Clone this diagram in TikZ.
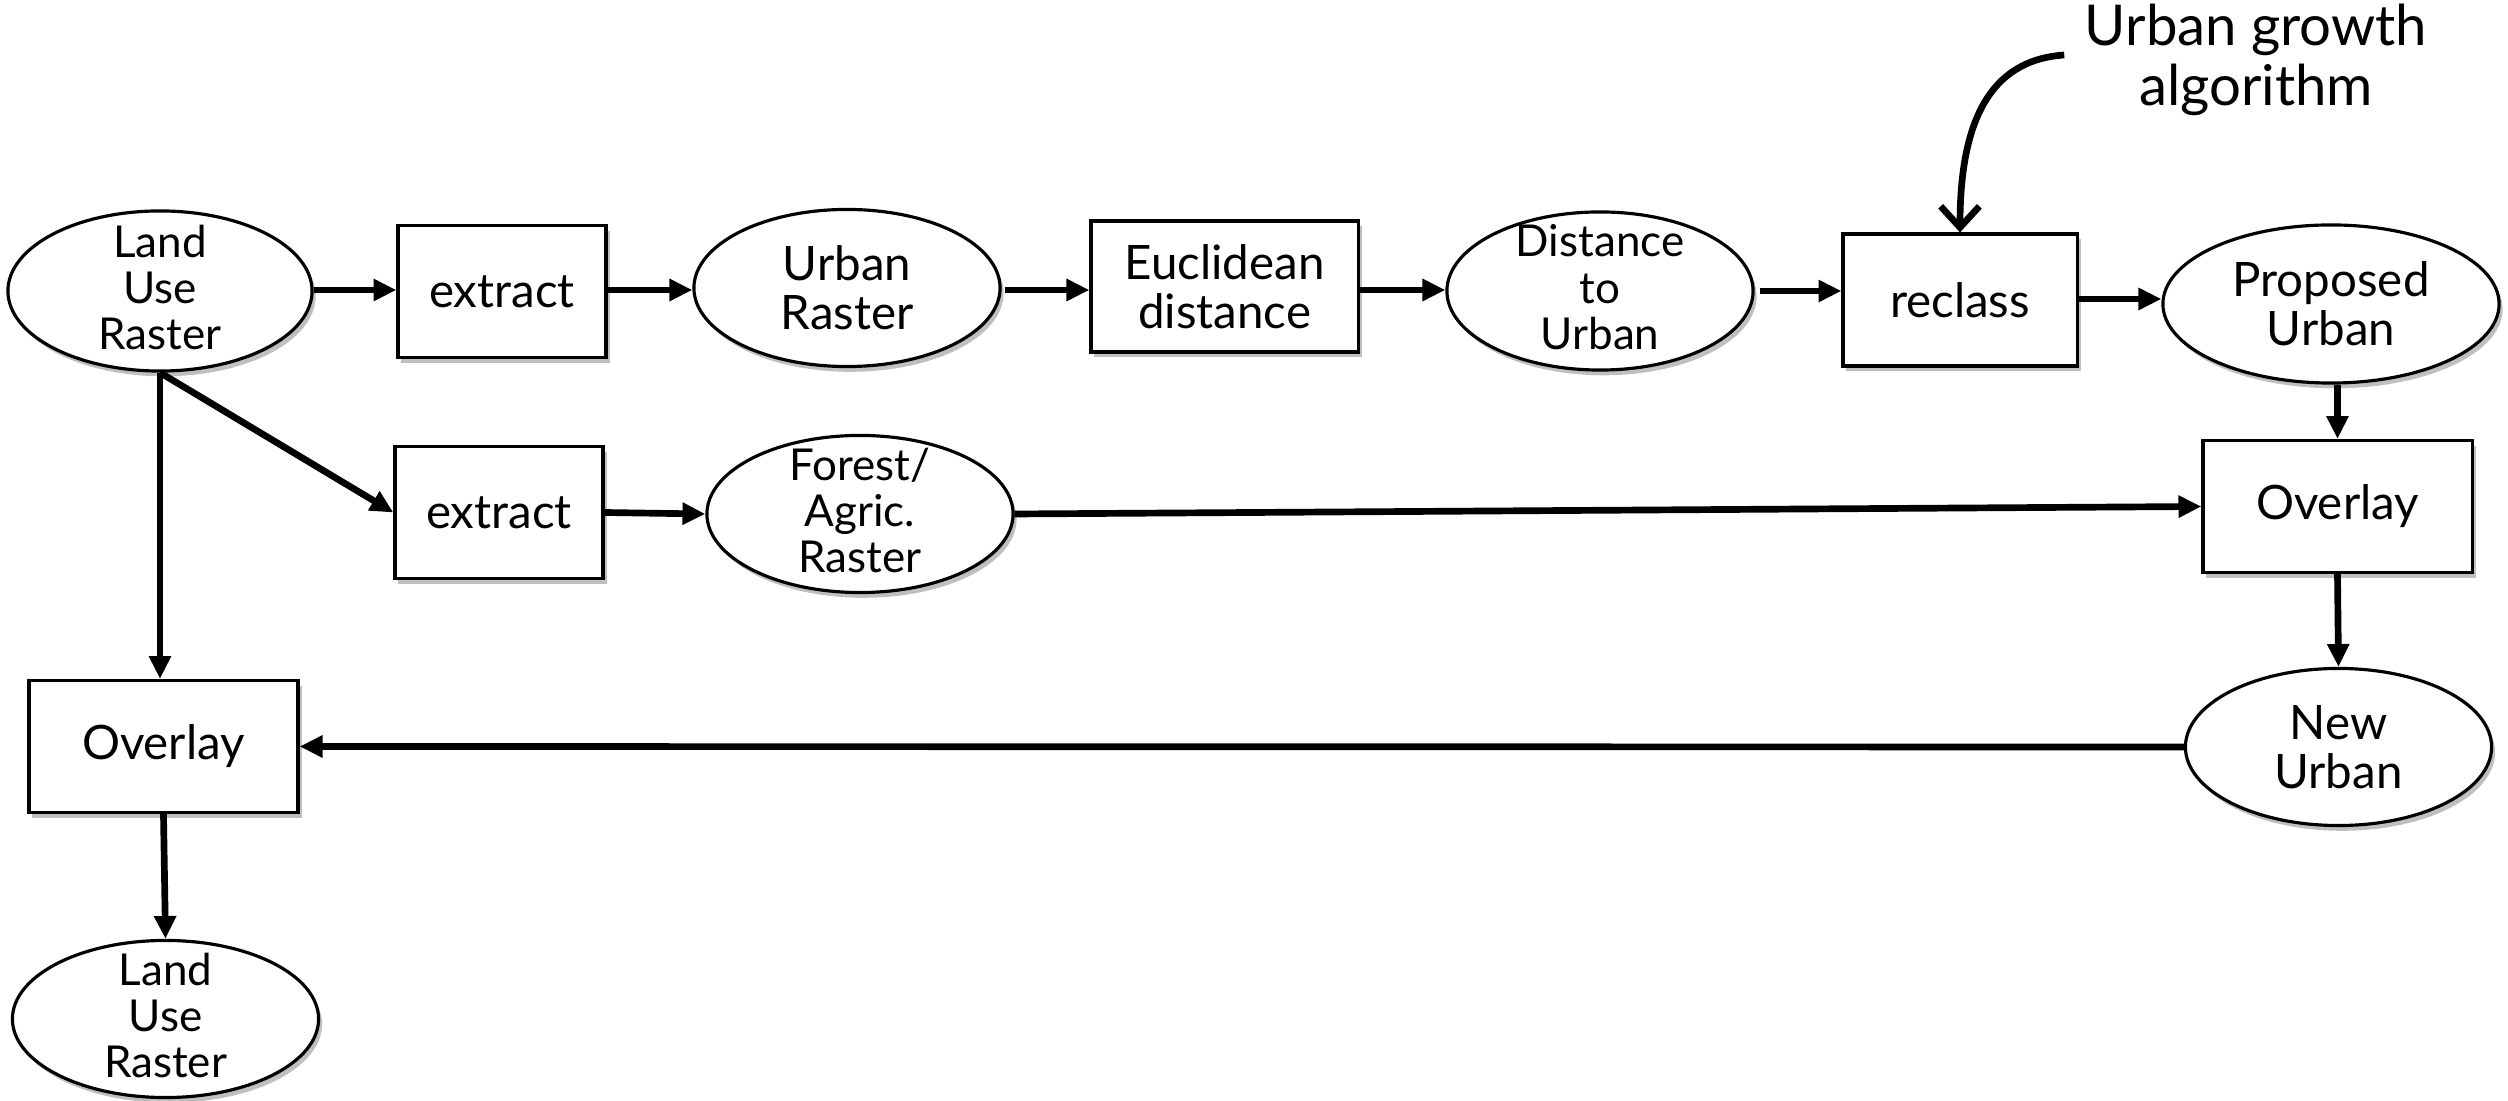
\documentclass[tikz,border=0pt]{standalone}
\usepackage{fontspec}
\setmainfont{Lato}
\usetikzlibrary{arrows.meta,shapes.geometric,shadows,calc}
\begin{document}
\begin{tikzpicture}[x=0.01cm,y=-0.01cm,
  txt/.style={align=center,font=\fontsize{13.5}{14}\selectfont,inner sep=0pt},
  txtthree/.style={align=center,font=\fontsize{12.5}{13.2}\selectfont,inner sep=0pt},
  base/.style={draw=black,line width=0.9pt,fill=white,inner sep=0pt,
    drop shadow={shadow xshift=1pt,shadow yshift=-1.5pt,opacity=0.25,fill=black}},
  proc/.style={base,txt,rectangle,minimum width=2.08cm,minimum height=1.32cm},
  data/.style={base,ellipse,minimum width=3.06cm,minimum height=1.57cm,
    label={[txt]center:#1}},
  datathree/.style={base,ellipse,minimum width=3.06cm,minimum height=1.57cm,
    label={[txtthree,yshift=1pt]center:#1}},
  flow/.style={line width=1.9pt,-{Triangle[length=6.5pt,width=6pt]}},
]
\useasboundingbox (0,0) rectangle (2508,1101);

\node[datathree={Land\\Use\\Raster},minimum width=3.04cm,minimum height=1.6cm] (lur) at (160,291) {};
\node[proc] (ex1) at (502,291.5) {extract};
\node[data={Urban\\Raster}] (ur) at (847,288) {};
\node[proc,minimum width=2.67cm,minimum height=1.31cm] (eu) at (1224.5,286.5) {Euclidean\\distance};
\node[datathree={Distance\\to\\Urban},minimum height=1.58cm] (dist) at (1600,291) {};
\node[proc,minimum width=2.34cm] (rec) at (1960,300) {reclass};
\node[data={Proposed\\Urban},minimum width=3.36cm,minimum height=1.58cm] (prop) at (2331,304) {};
\node[align=center,font=\fontsize{16}{17}\selectfont,inner sep=0pt] (ann) at (2256,60) {Urban growth\\algorithm};

\node[proc] (ex2) at (499,512.5) {extract};
\node[datathree={Forest/\\Agric.\\Raster}] (for) at (860,514) {};
\node[proc,minimum width=2.69cm] (ovr) at (2337.5,506.5) {Overlay};
\node[data={New\\Urban}] (nu) at (2338.5,747) {};
\node[proc,minimum width=2.69cm] (ovl) at (163.5,746.5) {Overlay};
\node[datathree={Land\\Use\\Raster}] (lur2) at (165.5,1019) {};

\draw[flow] (lur.east |- 0,290) -- (ex1.west |- 0,290);
\draw[flow] (ex1.east |- 0,290) -- (ur.west |- 0,290);
\draw[flow] ($(ur.east |- 0,290)+(3,0)$) -- (eu.west |- 0,290);
\draw[flow] (eu.east |- 0,290) -- (dist.west |- 0,290);
\draw[flow] ($(dist.east)+(5,0)$) -- (dist.east -| rec.west);
\draw[flow] (rec.east |- 0,299) -- (prop.west |- 0,299);
\draw[flow] (prop.south -| ovr.north) -- (ovr.north);
\draw[flow] (lur.south) -- (lur.south |- ovl.north);
\draw[flow] (lur.south) -- (ex2.west);
\draw[flow] (ex2.east) -- (for.west);
\draw[flow] (for.east) -- (ovr.west);
\draw[flow] (ovr.south) -- (nu.north);
\draw[flow] (nu.west) -- (ovl.east);
\draw[flow] (ovl.south) -- (lur2.north);
\draw[line width=1.9pt,-{Straight Barb[length=6pt,width=11pt]}]
  ($(ann.west)+(-20,-5)$) .. controls +(-75,5) and +(0,-110) .. (rec.north);
\end{tikzpicture}
\end{document}
